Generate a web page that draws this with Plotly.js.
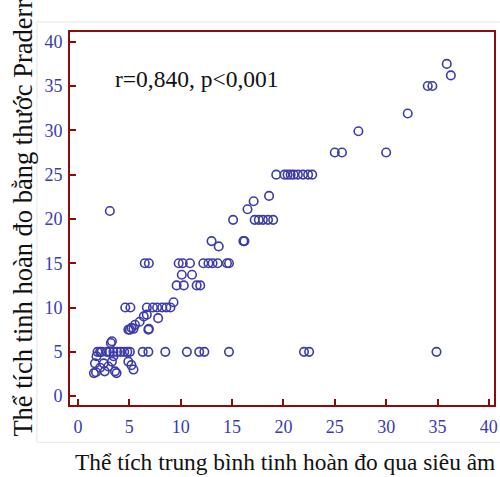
<!DOCTYPE html>
<html><head><meta charset="utf-8">
<script src="https://cdn.plot.ly/plotly-3.0.1.min.js"></script>
<style>body{margin:0;background:#fff}#c{width:500px;height:477px}</style>
</head><body><div id="c"></div>
<script>
// Thể tích trung bình tinh hoàn đo qua siêu âm (x) vs. thước Prader (y)
const xUltrasound = [
  35.9, 36.3, 34.05, 34.5, 32.1, 27.3, 25.0, 25.7, 30.0,
  19.3, 20.1, 20.4, 20.7, 21.0, 21.4, 21.9, 22.4, 22.8,
  18.6, 17.1, 16.5,
  15.1, 17.2, 17.6, 18.0, 18.5, 19.0,
  13.0, 13.7, 16.1, 16.2,
  6.5, 6.9, 9.8, 10.2, 10.9, 12.2, 12.7, 13.1, 13.6, 14.5, 14.7,
  10.1, 11.1,
  9.6, 10.3, 11.55, 11.9,
  4.6, 5.1, 6.7, 7.3, 7.7, 8.2, 8.6, 9.0, 9.3,
  7.8, 6.7, 6.4, 6.0, 5.55, 5.2, 4.9, 6.9,
  5.05, 5.4, 6.85,
  3.3, 3.2,
  1.9, 2.3, 2.8, 3.1, 3.45, 3.8, 4.15, 4.5, 4.8, 5.05,
  6.3, 6.85, 8.5, 10.6, 11.8, 12.3, 14.7, 22.0, 22.5, 34.9,
  2.15, 1.8, 1.65, 1.75, 1.55, 2.15, 2.5, 2.6, 2.95, 3.3, 3.45, 3.6, 3.75, 4.9, 5.2, 5.4,
  3.1
];
const yPrader = [
  37.5, 36.2, 35.0, 35.0, 31.9, 29.9, 27.5, 27.5, 27.5,
  25, 25, 25, 25, 25, 25, 25, 25, 25,
  22.6, 22.0, 21.1,
  19.9, 19.9, 19.9, 19.9, 19.9, 19.9,
  17.5, 16.9, 17.5, 17.5,
  15, 15, 15, 15, 15, 15, 15, 15, 15, 15, 15,
  13.7, 13.7,
  12.5, 12.5, 12.5, 12.5,
  10, 10, 10, 10, 10, 10, 10, 10, 10.6,
  8.8, 9.2, 9.0, 8.4, 8.05, 7.7, 7.5, 7.6,
  7.5, 7.6, 7.5,
  6.2, 6.0,
  5, 5, 5, 5, 5, 5, 5, 5, 5, 5,
  5, 5, 5, 5, 5, 5, 5, 5, 5, 5,
  5.0, 4.5, 3.7, 2.7, 2.6, 3.2, 3.7, 2.8, 3.35, 3.9, 4.5, 2.8, 2.6, 3.9, 3.5, 3.0,
  20.9
];
const xTicks = [0, 5, 10, 15, 20, 25, 30, 35, 40];
const yTicks = [0, 5, 10, 15, 20, 25, 30, 35, 40];
const statText = 'r=0,840, p<0,001';
const xTitle = 'Thể tích trung bình tinh hoàn đo qua siêu âm';
const yTitle = 'Thể tích tinh hoàn đo bằng thước Praderr';

const frame = '#8b0a0a';
const serif = 'Liberation Serif, Times New Roman, serif';
const tickFont = {family: serif, size: 18, color: '#3b3bb0'};

Plotly.newPlot('c', [{
  x: xUltrasound, y: yPrader, type: 'scatter', mode: 'markers',
  marker: {symbol: 'circle-open', size: 8.5, color: '#3c3ca8', line: {width: 1.6, color: '#3c3ca8'}},
  hoverinfo: 'x+y'
}], {
  width: 500, height: 477,
  margin: {l: 70, r: 6, t: 32, b: 72},
  paper_bgcolor: '#fff', plot_bgcolor: '#fff',
  showlegend: false,
  xaxis: {range: [-0.78, 40.5], tickvals: xTicks, ticktext: xTicks.map(String),
    ticks: 'inside', ticklen: 6, tickwidth: 2, tickcolor: frame,
    showline: true, linecolor: frame, linewidth: 2, mirror: true,
    showgrid: false, zeroline: false, tickfont: tickFont, ticklabelstandoff: 4},
  yaxis: {range: [-1, 41.1], tickvals: yTicks, ticktext: yTicks.map(String),
    ticks: 'inside', ticklen: 6, tickwidth: 2, tickcolor: frame,
    showline: true, linecolor: frame, linewidth: 2, mirror: true,
    showgrid: false, zeroline: false, tickfont: tickFont, ticklabelstandoff: 2},
  shapes: [{type: 'rect', xref: 'paper', yref: 'paper', x0: -0.078, x1: 1.02, y0: -0.1, y1: 1.027,
    line: {color: '#e6e6e6', width: 1}, fillcolor: 'rgba(0,0,0,0)', layer: 'below'}],
  annotations: [
    {text: statText, xref: 'paper', yref: 'paper', x: 0.102, y: 0.875, xanchor: 'left', yanchor: 'middle',
     showarrow: false, font: {family: serif, size: 23.5, color: '#111'}},
    {text: xTitle, xref: 'paper', yref: 'paper', x: 0.508, y: -0.153, xanchor: 'center', yanchor: 'middle',
     showarrow: false, font: {family: serif, size: 23.4, color: '#111'}},
    {text: yTitle, xref: 'paper', yref: 'paper', x: -0.113, y: 0.5, xanchor: 'center', yanchor: 'middle', textangle: -90,
     showarrow: false, font: {family: serif, size: 26.5, color: '#111'}}
  ]
}, {staticPlot: true});
</script></body></html>
